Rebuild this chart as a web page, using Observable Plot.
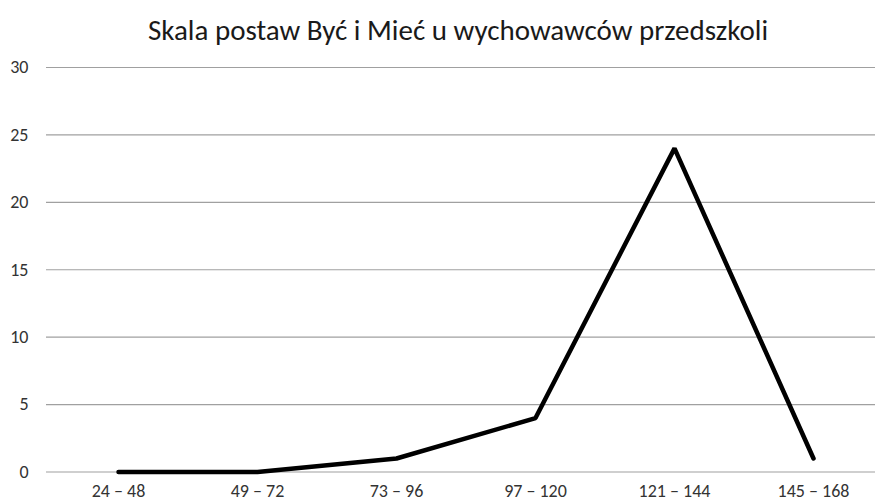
<!DOCTYPE html>
<html><head><meta charset="utf-8">
<script src="https://cdn.jsdelivr.net/npm/d3@7"></script>
<script src="https://cdn.jsdelivr.net/npm/@observablehq/plot@0.6"></script>
<style>
body{margin:0;background:#fff;font-family:Carlito,Lato,"Open Sans",sans-serif;}
#title{height:50px;line-height:61px;text-align:center;font-size:29px;color:#1a1a1a;width:875px;box-sizing:border-box;padding-left:41px;white-space:nowrap;}
</style>
</head><body>
<div id="title">Skala postaw Być i Mieć u wychowawców przedszkoli</div>
<div id="chart"></div>
<script>
const categories = ["24 – 48","49 – 72","73 – 96","97 – 120","121 – 144","145 – 168"];
const values = [0, 0, 1, 4, 24, 1];
const yTicks = [0,5,10,15,20,25,30];
const data = categories.map((c,i)=>({cat:c, v:values[i]}));
const chart = Plot.plot({
  width: 875, height: 453,
  marginLeft: 46, marginRight: 0, marginTop: 17, marginBottom: 31.5,
  style:{fontFamily:"Carlito, Lato, 'Open Sans', sans-serif", fontSize:"18px", color:"#333", background:"#fff", overflow:"visible"},
  x:{type:"point", domain:categories, range:[117,813], padding:0, label:null},
  y:{domain:[0,30], label:null},
  marks:[
    Plot.ruleY(yTicks,{stroke:"#a0a0a0", strokeWidth:1.2}),
    Plot.axisX({tickSize:0, tickPadding:12, fontSize:18, label:null}),
    Plot.axisY({ticks:yTicks, tickSize:0, tickPadding:18, fontSize:18, label:null}),
    Plot.line(data,{x:"cat", y:"v", stroke:"#000", strokeWidth:4.5, strokeLinejoin:"miter", strokeLinecap:"round"})
  ]
});
document.getElementById("chart").appendChild(chart);
</script>
</body></html>
